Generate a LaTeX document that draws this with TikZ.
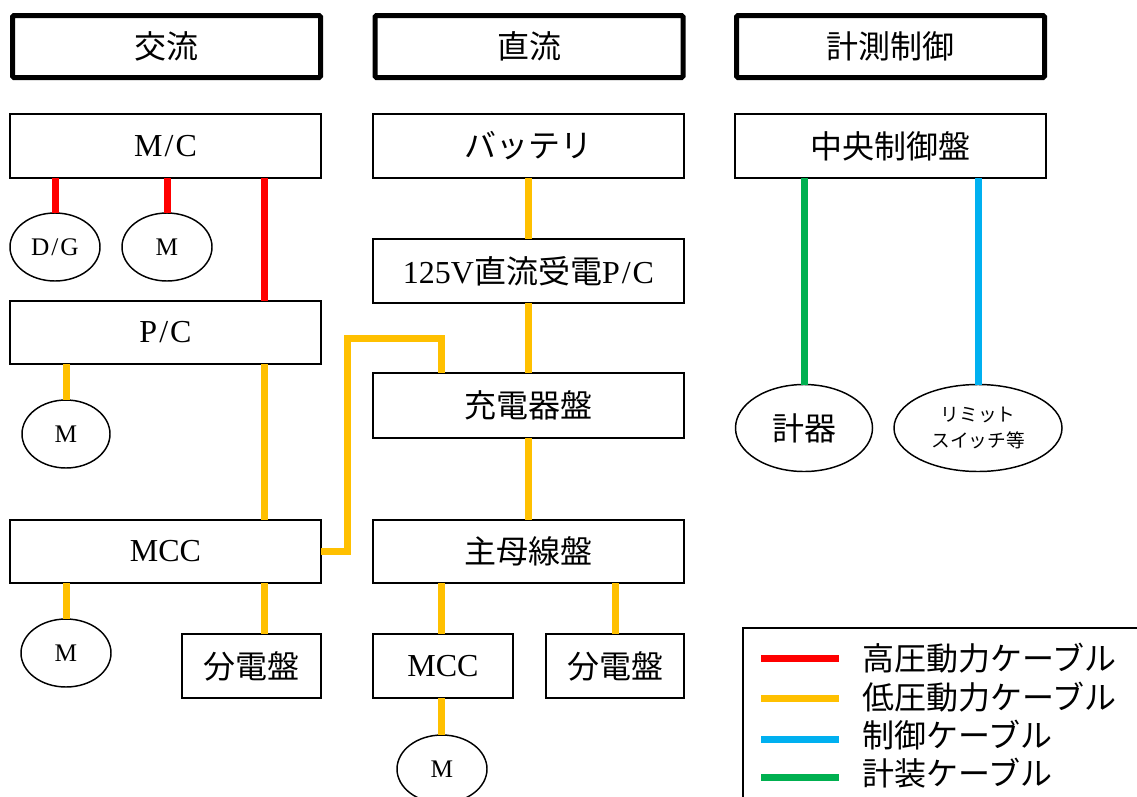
\documentclass[tikz,border=0pt]{standalone}
\usepackage{fontspec}
\setmainfont{Liberation Serif}
\newfontfamily\cjk{Noto Sans CJK JP}
\usetikzlibrary{shapes.geometric}
\definecolor{hvred}{HTML}{FF0000}
\definecolor{lvorange}{HTML}{FFC000}
\definecolor{ctlblue}{HTML}{00B0F0}
\definecolor{insgreen}{HTML}{00B050}
\newcommand{\myslash}{\kern1.5pt/\kern1.5pt}
\tikzset{
  box/.style={draw, line width=1.1pt, fill=white, inner sep=0pt, outer sep=0pt,
    font=\fontsize{24}{28}\selectfont},
  head/.style={box, line width=3.75pt, rounded corners=1pt},
  oval/.style={ellipse, draw, line width=1.1pt, fill=white, inner sep=0pt, outer sep=0pt},
  cable/.style={line width=5.25pt},
  hv/.style={cable, draw=hvred},
  lv/.style={cable, draw=lvorange},
  ctl/.style={cable, draw=ctlblue},
  ins/.style={cable, draw=insgreen},
  legtext/.style={anchor=west, inner sep=0pt, font=\fontsize{24}{28}\selectfont\cjk},
}
\begin{document}
\begin{tikzpicture}[x=0.75pt,y=-0.75pt]
\useasboundingbox (0,0) rectangle (1137,796);
\clip (0,0) rectangle (1137,796);
\fill[white] (0,0) rectangle (1137,796);

% headers
\node[head, minimum width=308*0.75pt, minimum height=62*0.75pt] (h1) at (166.5,46.5) {\cjk 交流};
\node[head, minimum width=308*0.75pt, minimum height=62*0.75pt] (h2) at (529,46.5) {\cjk 直流};
\node[head, minimum width=308*0.75pt, minimum height=62*0.75pt] (h3) at (890.5,46.5) {\cjk 計測制御};

% AC column
\node[box, minimum width=311*0.75pt, minimum height=64*0.75pt] (mc) at (165.5,146) {M\myslash C};
\node[oval, minimum width=90*0.75pt, minimum height=68*0.75pt, font=\fontsize{19}{20}\selectfont] (dg) at (55,247) {D\myslash G};
\node[oval, minimum width=90*0.75pt, minimum height=68*0.75pt, font=\fontsize{19}{20}\selectfont] (m1) at (167,247) {M};
\node[box, minimum width=311*0.75pt, minimum height=63*0.75pt] (pc) at (165.5,332.5) {P\myslash C};
\node[oval, minimum width=88*0.75pt, minimum height=68*0.75pt, font=\fontsize{19}{20}\selectfont] (m2) at (66,434) {M};
\node[box, minimum width=311*0.75pt, minimum height=63*0.75pt] (mcc1) at (165.5,551.5) {MCC};
\node[oval, minimum width=90*0.75pt, minimum height=68*0.75pt, font=\fontsize{19}{20}\selectfont] (m3) at (66,653) {M};
\node[box, minimum width=139*0.75pt, minimum height=64*0.75pt] (dist1) at (251.5,666) {\cjk 分電盤};

% DC column
\node[box, minimum width=311*0.75pt, minimum height=64*0.75pt] (bat) at (528.5,146) {\cjk バッテリ};
\node[box, minimum width=311*0.75pt, minimum height=64*0.75pt] (p125) at (528.5,271) {125V{\cjk 直流受電}P\myslash C};
\node[box, minimum width=311*0.75pt, minimum height=65*0.75pt] (chg) at (528.5,405.5) {\cjk 充電器盤};
\node[box, minimum width=311*0.75pt, minimum height=63*0.75pt] (main) at (528.5,551.5) {\cjk 主母線盤};
\node[box, minimum width=140*0.75pt, minimum height=64*0.75pt] (mcc2) at (443,666) {MCC};
\node[box, minimum width=138*0.75pt, minimum height=64*0.75pt] (dist2) at (615,666) {\cjk 分電盤};
\node[oval, minimum width=90*0.75pt, minimum height=68*0.75pt, font=\fontsize{19}{20}\selectfont] (m4) at (442,769) {M};

% control column
\node[box, minimum width=311*0.75pt, minimum height=64*0.75pt] (cc) at (890.5,146) {\cjk 中央制御盤};
\node[oval, minimum width=137*0.75pt, minimum height=87*0.75pt, font=\fontsize{24}{28}\selectfont\cjk] (inst) at (804,428) {計器};
\node[oval, minimum width=168*0.75pt, minimum height=87*0.75pt, align=center, font=\fontsize{14}{19}\selectfont\cjk] (lim) at (978,428) {リミット\\スイッチ等};

% helper coordinates
\coordinate (c1) at (264,0);
\coordinate (c3) at (441,0);
\coordinate (k) at (347,338);

% cables
\draw[hv] (dg.north) -- (dg.north |- mc.south);
\draw[hv] (m1.north) -- (m1.north |- mc.south);
\draw[hv] (c1 |- mc.south) -- (c1 |- pc.north);
\draw[lv] (m2.north) -- (m2.north |- pc.south);
\draw[lv] (c1 |- pc.south) -- (c1 |- mcc1.north);
\draw[lv] (m3.north) -- (m3.north |- mcc1.south);
\draw[lv] (c1 |- mcc1.south) -- (c1 |- dist1.north);
\draw[lv, line join=miter] (mcc1.east) -- (mcc1.east -| k) -- (k) -- (k -| c3) -- (c3 |- chg.north);
\draw[lv] (bat.south) -- (p125.north);
\draw[lv] (p125.south) -- (chg.north);
\draw[lv] (chg.south) -- (main.north);
\draw[lv] (c3 |- main.south) -- (c3 |- mcc2.north);
\draw[lv] (dist2.north) -- (dist2.north |- main.south);
\draw[lv] (c3 |- mcc2.south) -- (c3 |- m4.north);
\draw[ins] (inst.north) -- (inst.north |- cc.south);
\draw[ctl] (lim.north) -- (lim.north |- cc.south);

% legend
\node[draw, line width=1.1pt, fill=white, inner sep=0pt, outer sep=0pt, anchor=north west,
  minimum width=420*0.75pt, minimum height=200*0.75pt] (leg) at (743,628) {};
\coordinate (la) at (761,0);
\coordinate (lb) at (839,0);
\node[legtext] (t1) at (862,658) {高圧動力ケーブル};
\node[legtext] (t2) at (862,697) {低圧動力ケーブル};
\node[legtext] (t3) at (862,735) {制御ケーブル};
\node[legtext] (t4) at (862,773) {計装ケーブル};
\draw[hv] (la |- t1.west) -- (lb |- t1.west);
\draw[lv] ([yshift=-0.75pt]la |- t2.west) -- ([yshift=-0.75pt]lb |- t2.west);
\draw[ctl] ([yshift=-3pt]la |- t3.west) -- ([yshift=-3pt]lb |- t3.west);
\draw[ins] ([yshift=-3pt]la |- t4.west) -- ([yshift=-3pt]lb |- t4.west);
\end{tikzpicture}
\end{document}
